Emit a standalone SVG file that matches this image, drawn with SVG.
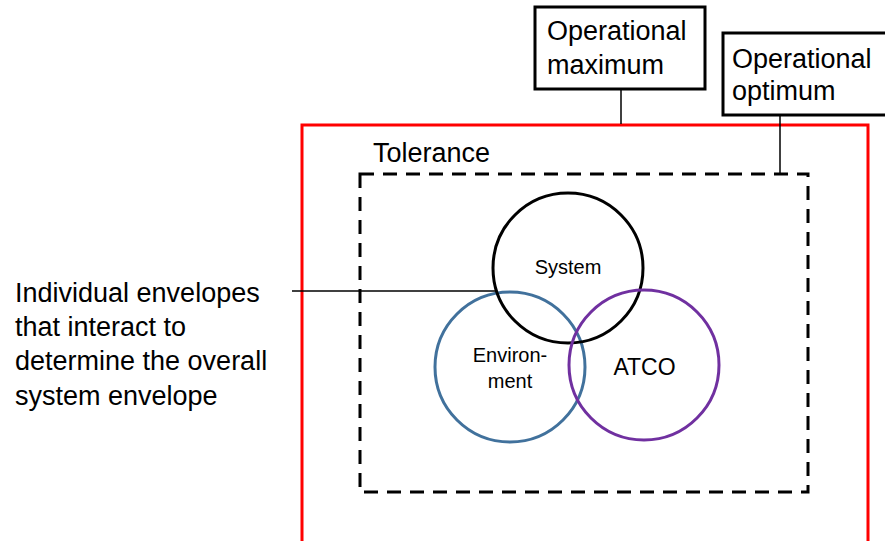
<svg xmlns="http://www.w3.org/2000/svg" width="885" height="541" viewBox="0 0 885 541">
<style>
text{font-family:"Liberation Sans",Arial,sans-serif;fill:#000}
.lbl{font-size:27px}
.box{fill:#fff;stroke:#000;stroke-width:3}
.conn{fill:none;stroke:#000;stroke-width:1.5}
.ring{fill:none;stroke-width:3}
</style>
<rect width="885" height="541" fill="#fff"/>
<g id="operational-envelope">
<path d="M302,560 V125 H868 V560" fill="none" stroke="#FF0000" stroke-width="3"/>
</g>
<g id="tolerance">
<rect x="360" y="174" width="448" height="318" fill="none" stroke="#000" stroke-width="3" stroke-dasharray="14 9"/>
<text class="lbl" x="373" y="162" font-size="26">Tolerance</text>
</g>
<g id="connectors">
<line class="conn" x1="621" y1="89" x2="621" y2="124"/>
<line class="conn" x1="780" y1="115" x2="780" y2="174"/>
<line class="conn" x1="292" y1="291" x2="496" y2="291"/>
</g>
<g id="operational-maximum">
<rect class="box" x="535" y="7" width="170" height="82"/>
<text class="lbl" x="547" y="40">Operational</text>
<text class="lbl" x="547" y="74">maximum</text>
</g>
<g id="operational-optimum">
<rect class="box" x="723" y="33" width="180" height="82"/>
<text class="lbl" x="732" y="68">Operational</text>
<text class="lbl" x="732" y="100">optimum</text>
</g>
<g id="environment">
<circle class="ring" cx="510" cy="367" r="75" stroke="#41719C"/>
<text x="510" y="362" font-size="20" text-anchor="middle">Environ-</text>
<text x="510" y="388" font-size="20" text-anchor="middle">ment</text>
</g>
<g id="system">
<circle class="ring" cx="568" cy="268" r="75" stroke="#000"/>
<text x="568" y="274" font-size="20" text-anchor="middle">System</text>
</g>
<g id="atco">
<circle class="ring" cx="644" cy="365" r="75" stroke="#7030A0"/>
<text x="644.5" y="375" font-size="23" text-anchor="middle">ATCO</text>
</g>
<g id="envelopes-note">
<text class="lbl" x="15" y="302">Individual envelopes</text>
<text class="lbl" x="15" y="336">that interact to</text>
<text class="lbl" x="15" y="370">determine the overall</text>
<text class="lbl" x="15" y="405">system envelope</text>
</g>
</svg>
